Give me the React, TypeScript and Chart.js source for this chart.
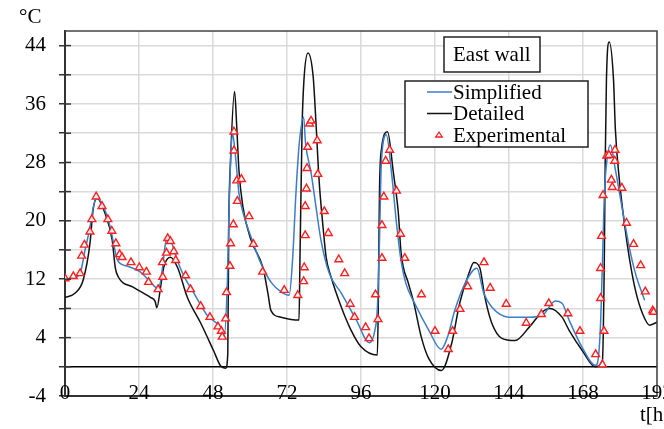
import React, { useEffect, useRef } from 'react';
import { Chart, registerables } from 'chart.js';

Chart.register(...registerables);

const FONT = 'Liberation Serif';

const yLabelValues = [-4, 4, 12, 20, 28, 36, 44];
const xTickStep = 24;
const yUnit = '°C';
const xUnit = 't[h]';
const chartTitle = 'East wall';

const simplifiedT = [0, 2.7, 4.9, 6.5, 8.1, 9.2, 10.3, 12.5, 14.7, 16, 17, 20.1, 24.4, 27.7, 29.9, 30.7, 31.5, 32.6, 33.6, 34.7, 36.4, 38.5, 41.8, 46.2, 50.5, 51.6, 52.7, 53.2, 53.7, 54.3, 55, 55.7, 56.4, 57.5, 60.3, 63.5, 66.8, 70, 72.7, 73.8, 74.9, 76, 77.4, 78, 79.8, 81.4, 83, 85.7, 89.6, 94.5, 98.7, 100.5, 101.3, 102, 102.6, 104.2, 105.9, 107.5, 109, 110.5, 113.4, 118, 122, 124, 126.4, 129.7, 133.6, 135.8, 138.4, 144, 150.5, 154.7, 159, 161.2, 163.5, 167.8, 172, 172.6, 173.6, 174.3, 174.9, 175.9, 176.9, 178.5, 180.8, 183, 185, 188];
const simplifiedY = [12.0, 12.2, 12.8, 16, 19.1, 21.9, 23.2, 21.9, 19.1, 16.4, 14.6, 13.8, 13.0, 11.6, 10.8, 11.1, 13.2, 16.9, 17.8, 16.9, 14.6, 12.5, 10.1, 7, 5.3, 4.0, 12.3, 21.5, 28.3, 32, 30.1, 27, 23.8, 21.5, 17.8, 14.2, 11.6, 10.3, 9.8, 14.6, 23.8, 30.7, 34.2, 30.7, 26.6, 21.9, 17.4, 12.8, 10.1, 6.4, 3.3, 5, 8, 17.4, 28, 31.8, 26.6, 19.7, 14.5, 11.5, 8.7, 5, 2.4, 4, 7.7, 11.4, 13.5, 10.1, 8.2, 6.8, 6.8, 7.0, 9.0, 8.7, 6.4, 2.6, 0.2, 0.4, 5, 14.2, 23.3, 28.8, 30.4, 27, 21.5, 16.4, 12.8, 9.1];

const detailedT = [0, 3.3, 5.9, 8.1, 9.1, 10.4, 13, 15.3, 16.3, 17.3, 22.1, 27.7, 29.2, 29.8, 31, 32, 34.2, 36.5, 39.7, 44, 48.2, 50.5, 52.1, 52.8, 53.1, 53.7, 55, 55.7, 56.4, 57.7, 60.3, 64.2, 65.8, 66.8, 70, 75.9, 76.2, 76.9, 77.5, 78.8, 80.5, 81.4, 82.4, 83.7, 84.7, 86.3, 89.6, 92.8, 96.1, 101.3, 101.6, 102, 102.6, 104.6, 106.5, 108.1, 109, 111.4, 113, 115.6, 117.9, 122.1, 125.4, 128, 131, 132.6, 134.5, 136.2, 138.4, 141.7, 146, 150.5, 154.7, 157.2, 161.2, 163.5, 167.8, 172, 174.3, 174.9, 175.2, 175.6, 176.5, 177.9, 178.5, 179.8, 181.4, 183, 185, 187.3, 189.6, 191.5, 192];
const detailedY = [9.5, 10.1, 11.9, 16.9, 21.5, 23.1, 21, 17.4, 13.6, 12.3, 10.9, 9.5, 9.0, 8.1, 10.9, 13.6, 15.0, 13.6, 9.5, 6, 2.2, 0.1, -0.2, 1.8, 19, 28.3, 37.7, 32.9, 27, 21.9, 17.4, 13.6, 10.1, 7.7, 6.8, 6.4, 14.6, 32.9, 39.3, 43.0, 39.7, 33.4, 25.6, 19.1, 15, 12.3, 8.2, 5, 2.7, 1.6, 8.2, 24.2, 29.7, 32.2, 26.6, 21.1, 15.6, 11.4, 9, 4, 1.2, -0.5, 3.2, 8.7, 12.8, 14.3, 13.6, 9.5, 6, 3.9, 3.6, 5.4, 7.5, 8.0, 6.8, 5, 2.2, 0, 0.9, 14.2, 27.9, 39.3, 44.5, 39.3, 32.5, 25.6, 19.7, 15, 10.5, 7.3, 5.7, 6, 6.1];

const experimentalT = [0, 2.7, 4.9, 5.4, 6.3, 8.1, 8.7, 10.1, 12, 13.9, 15.2, 16.5, 17.7, 18.5, 21.4, 24.1, 26.4, 27.1, 30.2, 31.7, 31.6, 32.9, 33.3, 34.2, 35.3, 35.9, 39.1, 40.7, 44, 47, 49.6, 50.7, 51, 52.1, 52.4, 53.5, 53.7, 54.6, 54.8, 54.8, 55.7, 57.2, 55.9, 59.7, 61.1, 64.1, 71.1, 75.5, 77.4, 77.6, 77.9, 77.9, 78.3, 78.5, 78.7, 79.3, 79.8, 81.8, 82, 84.1, 85.4, 88.8, 90.7, 92.5, 93.9, 97.5, 98.6, 100.7, 101.5, 102.8, 102.8, 103.4, 104, 105.3, 107.5, 108.8, 110.2, 115.6, 120, 124.3, 125.7, 128.1, 130.6, 135.9, 137.9, 143.1, 149.6, 154.5, 156.9, 163.1, 167, 172.1, 174.3, 174.8, 173.7, 173.7, 174, 174.5, 175.7, 176.4, 178.4, 178.3, 177.2, 177.5, 180.6, 182.1, 184.4, 186.7, 188.2, 190.6, 190.9];
const experimentalY = [12.1, 12.4, 12.8, 15.2, 16.7, 18.5, 20.2, 23.3, 22, 20.2, 18.6, 16.9, 15.4, 15, 14.3, 13.6, 13, 11.6, 10.6, 12.3, 14.3, 15.6, 17.6, 17.2, 15.8, 14.6, 12.5, 10.6, 8.3, 6.8, 5.5, 4.9, 4.1, 6.6, 10.2, 13.8, 16.9, 19.5, 32.2, 29.6, 25.5, 25.7, 22.7, 20.6, 16.8, 13, 10.5, 9.8, 11.7, 13.6, 18, 22, 24.4, 27.2, 30.1, 33.3, 33.7, 31, 26.4, 21.3, 18.3, 14.7, 12.8, 8.6, 6.8, 5.4, 3.9, 9.9, 6.5, 14.9, 19.4, 23.3, 28.2, 29.7, 24.1, 18.2, 14.9, 9.9, 4.9, 2.4, 4.9, 7.9, 11, 14.3, 10.8, 8.6, 6, 7.2, 8.7, 7.3, 4.9, 1.7, 0.3, 4.9, 9.4, 13.5, 17.9, 23.5, 28.9, 29, 29.7, 28.2, 25.6, 24.6, 24.5, 19.7, 16.8, 13.9, 10.3, 7.7, 7.5];

const toPoints = (xs: number[], ys: number[]) => xs.map((x, i) => ({ x, y: ys[i] }));

const BLUE = '#3b7dc8';
const BLACK = '#111111';
const RED = '#ff1f1f';

const decorPlugin = {
  id: 'decor',
  afterDraw(chart: any) {
    const { ctx, chartArea: a, scales } = chart;
    ctx.save();
    // top & right frame
    ctx.strokeStyle = '#444';
    ctx.lineWidth = 1.5;
    ctx.beginPath();
    ctx.moveTo(a.left, a.top);
    ctx.lineTo(a.right, a.top);
    ctx.lineTo(a.right, a.bottom);
    ctx.stroke();
    // inner part of y tick marks
    const ys = scales.y;
    ctx.strokeStyle = '#333';
    ys.ticks.forEach((t: any) => {
      const py = ys.getPixelForValue(t.value);
      ctx.beginPath();
      ctx.moveTo(a.left, py);
      ctx.lineTo(a.left + 6, py);
      ctx.stroke();
    });
    ctx.fillStyle = '#000';
    ctx.font = `21px "${FONT}"`;
    // x tick labels (sit across the bottom axis line, as in the original)
    const xs = scales.x;
    ctx.textAlign = 'center';
    ctx.textBaseline = 'alphabetic';
    xs.ticks.forEach((t: any) => {
      ctx.fillText(String(t.value), xs.getPixelForValue(t.value), a.bottom + 3);
    });
    // units
    ctx.textAlign = 'left';
    ctx.fillText(yUnit, 19, 23);
    ctx.fillText(xUnit, 640, 421);

    // title box
    ctx.fillStyle = '#fff';
    ctx.fillRect(444, 37, 96, 35);
    ctx.strokeStyle = '#222';
    ctx.lineWidth = 1.5;
    ctx.strokeRect(444, 37, 96, 35);
    ctx.fillStyle = '#000';
    ctx.fillText(chartTitle, 453, 61);

    // legend box
    ctx.fillStyle = '#fff';
    ctx.fillRect(405, 81, 183, 66);
    ctx.strokeRect(405, 81, 183, 66);
    const ds = chart.data.datasets;
    const rows = [92, 113.5, 135];
    ds.forEach((d: any, i: number) => {
      const cy = rows[i];
      if (d.type === 'line') {
        ctx.strokeStyle = d.borderColor;
        ctx.lineWidth = 1.5;
        ctx.beginPath();
        ctx.moveTo(427, cy);
        ctx.lineTo(452, cy);
        ctx.stroke();
      } else {
        ctx.strokeStyle = d.borderColor;
        ctx.lineWidth = 1.3;
        const r = 3;
        ctx.beginPath();
        ctx.moveTo(439, cy + 2 - r * 1.6);
        ctx.lineTo(439 + r * 1.1, cy + 2);
        ctx.lineTo(439 - r * 1.1, cy + 2);
        ctx.closePath();
        ctx.stroke();
      }
      ctx.fillStyle = '#000';
      ctx.fillText(d.label, 453, cy + 6.5);
    });
    ctx.restore();
  },
};

export default function App() {
  const ref = useRef<HTMLCanvasElement>(null);
  useEffect(() => {
    const canvas = ref.current;
    if (!canvas) return;
    const chart = new Chart(canvas, {
      type: 'scatter',
      data: {
        datasets: [
          {
            type: 'line',
            label: 'Simplified',
            data: toPoints(simplifiedT, simplifiedY),
            borderColor: BLUE,
            borderWidth: 1.5,
            pointRadius: 0,
            cubicInterpolationMode: 'monotone',
            fill: false,
            order: 1,
          },
          {
            type: 'line',
            label: 'Detailed',
            data: toPoints(detailedT, detailedY),
            borderColor: BLACK,
            borderWidth: 1.5,
            pointRadius: 0,
            cubicInterpolationMode: 'monotone',
            fill: false,
            order: 2,
          },
          {
            type: 'scatter',
            label: 'Experimental',
            data: toPoints(experimentalT, experimentalY),
            pointStyle: 'triangle',
            pointRadius: 4.5,
            borderColor: RED,
            backgroundColor: 'rgba(255,255,255,0.85)',
            borderWidth: 1.4,
            order: 0,
          },
        ] as any,
      },
      plugins: [decorPlugin],
      options: {
        animation: false,
        responsive: false,
        events: [],
        layout: { padding: { left: 0, top: 31, right: 7, bottom: 0 } },
        plugins: { legend: { display: false }, tooltip: { enabled: false } },
        scales: {
          x: {
            type: 'linear',
            min: 0,
            max: 192,
            afterFit: (s: any) => {
              s.height = 33;
              s.paddingLeft = 0;
              s.paddingRight = 0;
            },
            ticks: {
              stepSize: xTickStep,
              autoSkip: false,
              maxRotation: 0,
              display: false,
            },
            grid: { color: '#dadada', lineWidth: 1.5, drawTicks: false },
            border: { color: '#333', width: 2 },
          },
          y: {
            type: 'linear',
            min: -4,
            max: 46,
            afterFit: (s: any) => {
              s.width = 65;
              s.paddingTop = 0;
              s.paddingBottom = 0;
            },
            ticks: {
              stepSize: 4,
              includeBounds: false,
              padding: 13,
              color: '#000',
              font: { family: FONT, size: 21 },
              callback: (v: any) => (yLabelValues.includes(Number(v)) ? String(v) : ''),
            },
            grid: {
              color: (c: any) => (c.tick && c.tick.value === 0 ? '#000' : '#dadada'),
              lineWidth: 1.5,
              tickLength: 6,
              tickColor: '#333',
              tickWidth: 1.5,
            },
            border: { color: '#333', width: 2 },
          },
        },
      } as any,
    });
    return () => chart.destroy();
  }, []);
  return (
    <canvas
      ref={ref}
      width={664}
      height={429}
      style={{ position: 'absolute', left: 0, top: 0, width: 664, height: 429 }}
    />
  );
}
